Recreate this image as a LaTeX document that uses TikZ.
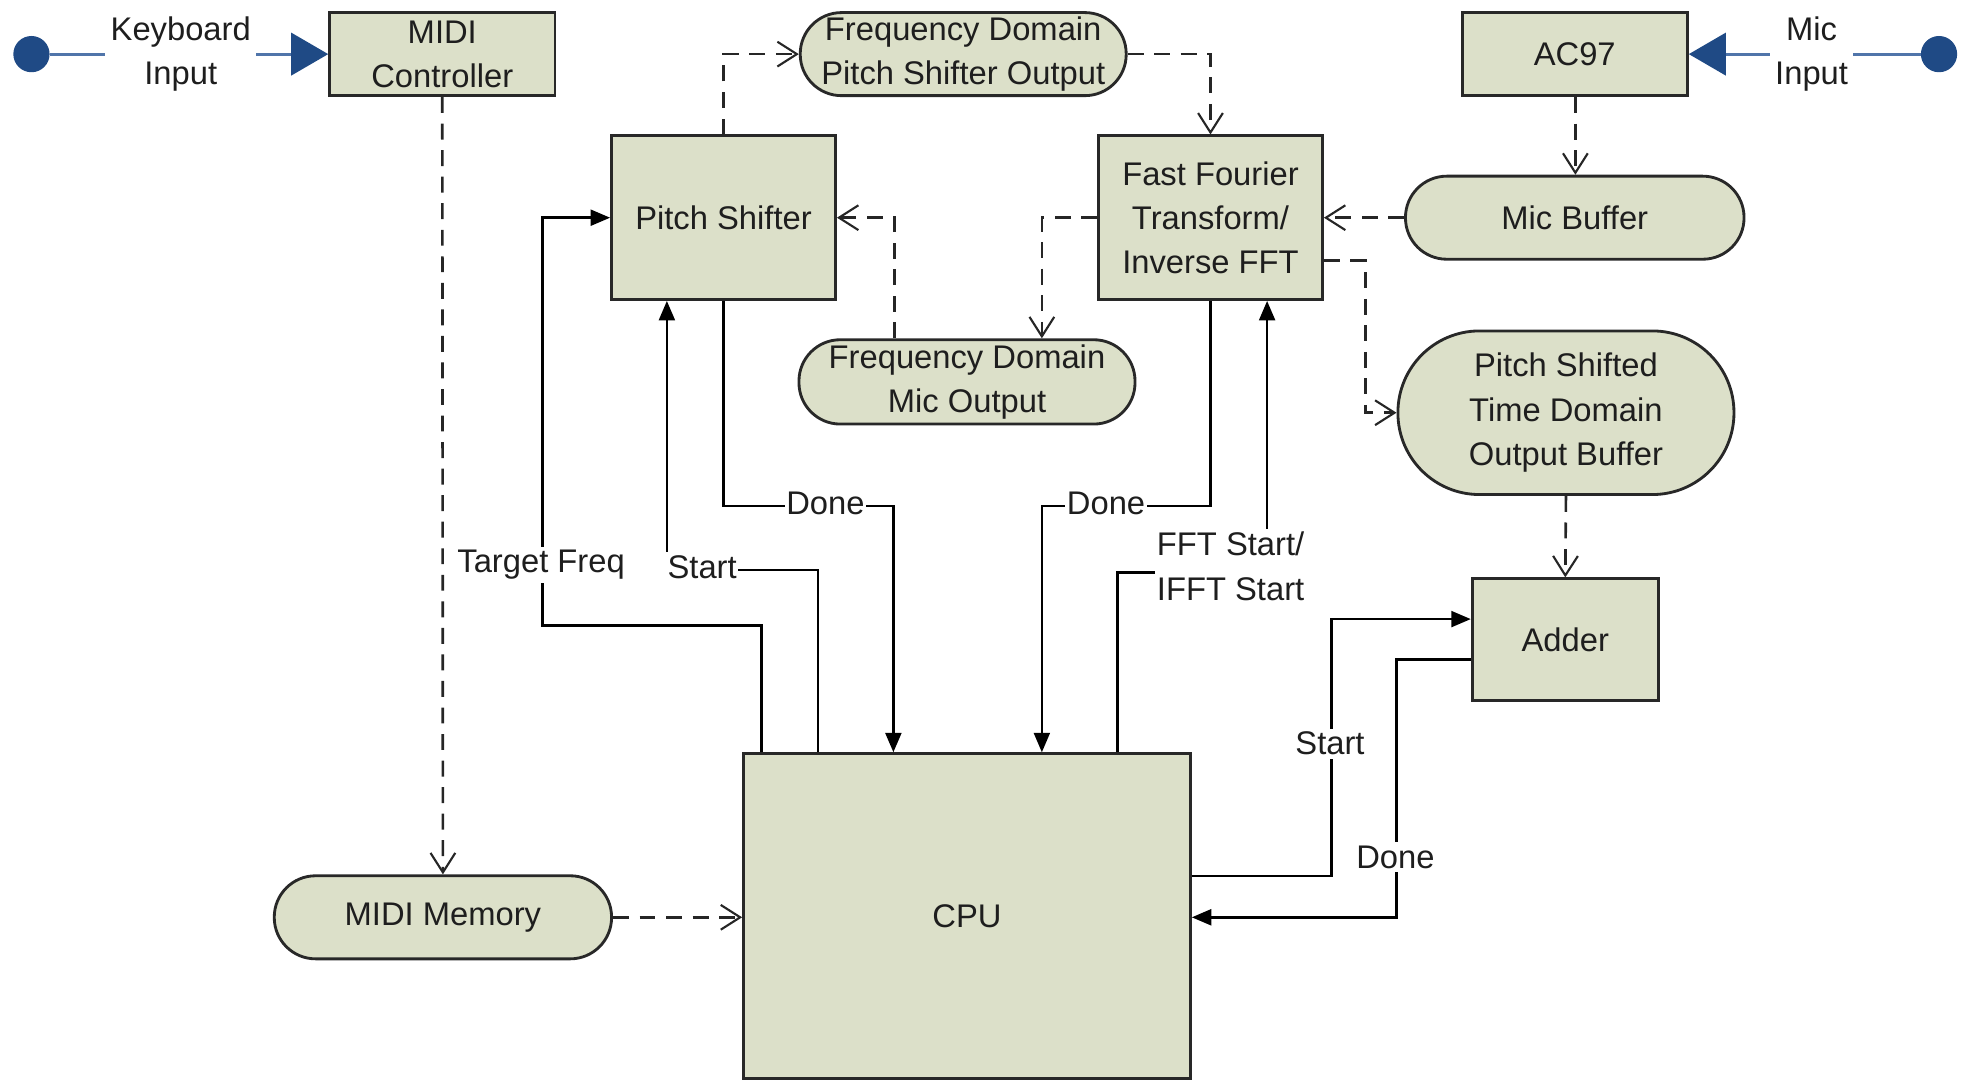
\documentclass[tikz,border=0pt]{standalone}
\usepackage{fontspec}
\setmainfont{Liberation Sans}
\usetikzlibrary{arrows.meta}
\definecolor{boxfill}{RGB}{220,224,201}
\definecolor{boxline}{RGB}{40,40,40}
\definecolor{txt}{RGB}{30,30,30}
\definecolor{dotblue}{RGB}{31,74,133}
\definecolor{lineblue}{RGB}{80,117,170}
\tikzset{
  every node/.style={text=txt, font=\fontsize{18.5}{25}\selectfont, align=center, inner sep=0pt},
  blk/.style={draw=boxline, line width=1.6pt, fill=boxfill, rectangle},
  stad/.style={draw=boxline, line width=1.6pt, fill=boxfill, rectangle, rounded corners=#1},
  stad/.default=0.82cm,
  sig/.style={draw=black, line width=1.4pt, -{Triangle[length=11pt,width=9pt]}},
  dat/.style={draw=black!85, line width=1.5pt, dash pattern=on 9pt off 6pt, -{Straight Barb[length=11pt,width=14pt,line width=1.2pt]}},
  lbl/.style={fill=white, inner xsep=1pt, inner ysep=2pt},
  dot/.style={circle, fill=dotblue, minimum size=0.72cm},
  bluearrow/.style={draw=lineblue, line width=1.6pt, -{Triangle[length=21pt,width=24pt,color=dotblue]}},
}
\begin{document}
\begin{tikzpicture}[x=0.025cm, y=-0.025cm]
\useasboundingbox (0,0) rectangle (1568,858);
% blocks
\node[blk, minimum width=4.475cm, minimum height=1.65cm] (midi) at (351.5,43) {MIDI\\Controller};
\node[blk, minimum width=4.475cm, minimum height=1.65cm] (ac97) at (1251.5,43) {AC97};
\node[stad, minimum width=6.475cm, minimum height=1.65cm] (fdps) at (765.5,43) {Frequency Domain\\Pitch Shifter Output};
\node[blk, minimum width=4.45cm, minimum height=3.25cm] (ps) at (575,173) {Pitch Shifter};
\node[blk, minimum width=4.45cm, minimum height=3.25cm] (fft) at (962,173) {Fast Fourier\\Transform/\\Inverse FFT};
\node[stad, minimum width=6.725cm, minimum height=1.65cm] (micbuf) at (1251.5,173) {Mic Buffer};
\node[stad, minimum width=6.675cm, minimum height=1.675cm] (fdmic) at (768.5,303.5) {Frequency Domain\\Mic Output};
\node[stad=1.62cm, minimum width=6.675cm, minimum height=3.25cm] (pstd) at (1244.5,328) {Pitch Shifted\\Time Domain\\Output Buffer};
\node[blk, minimum width=3.7cm, minimum height=2.425cm] (adder) at (1244,508.5) {Adder};
\node[blk, minimum width=8.875cm, minimum height=6.45cm] (cpu) at (768.5,728) {CPU};
\node[stad, minimum width=6.7cm, minimum height=1.65cm] (midimem) at (352,729) {MIDI Memory};
% inputs
\node[dot] (kbdot) at (25,43) {};
\node[dot] (micdot) at (1541,43) {};
\draw[bluearrow] (kbdot) -- (midi.west) node[pos=0.47, lbl, inner xsep=3pt] (kblbl) {Keyboard\\Input};
\draw[bluearrow] (micdot) -- (ac97.east) node[pos=0.47, lbl, inner xsep=3pt] (miclbl) {Mic\\Input};
% dashed data flows
\draw[dat] (midi.south) -- (midimem.north);
\draw[dat] (midimem.east) -- (cpu.west |- midimem.east);
\draw[dat] (ps.north) |- (fdps.west);
\draw[dat] (fdps.east) -| (fft.north);
\draw[dat] (micbuf.west) -- (fft.east |- micbuf.west);
\draw[dat] (fft.west) -| (fdmic.north -| 828,0);
\draw[dat] (fdmic.north -| 711,0) |- (ps.east);
\draw[dat] (fft.east |- 0,207) -| (1085,328) -- (pstd.west);
\draw[dat] (ac97.south -| 1252,0) -- (micbuf.north -| 1252,0);
\draw[dat] (pstd.south) -- (adder.north);
% control signals
\draw[sig] (cpu.north -| 605,0) |- (431,497) -- (431,173) -- (ps.west);
\node[lbl] (tflbl) at (430,449) {Target Freq};
\draw[sig] (cpu.north -| 650,0) |- (530,453) -- (ps.south -| 530,0);
\node[lbl] (pslbl) at (558,451) {Start};
\draw[sig] (ps.south) |- (710,402) -- (cpu.north -| 710,0);
\node[lbl] (psdone) at (656,400) {Done};
\draw[sig] (fft.south) |- (828,402) -- (cpu.north -| 828,0);
\node[lbl] (fftdone) at (879,400) {Done};
\draw[sig] (cpu.north -| 888,0) |- (1007,455) -- (fft.south -| 1007,0);
\node[lbl, align=left] (fftstart) at (978,450) {FFT Start/\\IFFT Start};
\draw[sig] (cpu.east |- 0,696) -| (1058,492) -- (adder.west |- 0,492);
\node[lbl] (addstart) at (1057,591) {Start};
\draw[sig] (adder.west |- 0,524) -| (1110,729) -- (cpu.east |- 0,729);
\node[lbl] (adddone) at (1109,681) {Done};
\end{tikzpicture}
\end{document}
